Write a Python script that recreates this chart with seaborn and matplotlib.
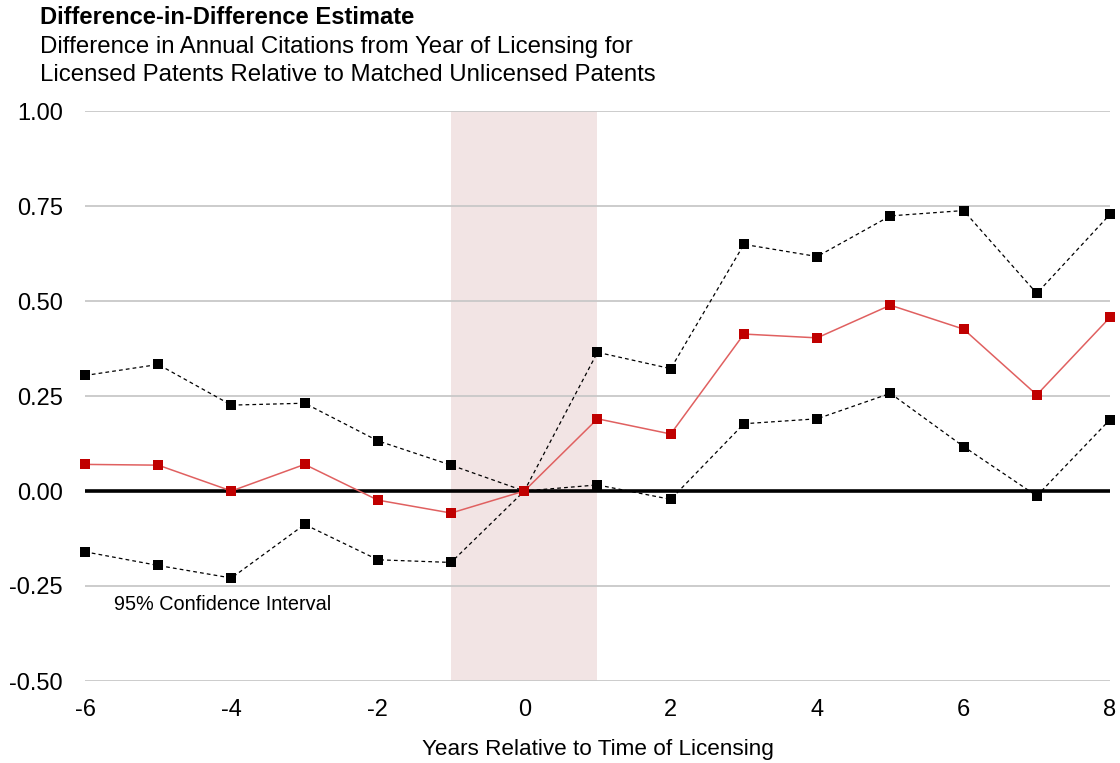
import matplotlib
matplotlib.use("Agg")
import matplotlib.pyplot as plt
import seaborn as sns
import pandas as pd

years = [-6, -5, -4, -3, -2, -1, 0, 1, 2, 3, 4, 5, 6, 7, 8]
estimate = [0.070, 0.068, 0.0, 0.070, -0.024, -0.058, 0.0, 0.190, 0.150, 0.413, 0.403, 0.489, 0.426, 0.253, 0.457]
upper_ci = [0.304, 0.333, 0.226, 0.231, 0.132, 0.068, 0.0, 0.365, 0.322, 0.649, 0.617, 0.724, 0.738, 0.520, 0.728]
lower_ci = [-0.160, -0.196, -0.229, -0.088, -0.181, -0.188, 0.0, 0.016, -0.022, 0.177, 0.190, 0.257, 0.117, -0.013, 0.188]
y_ticks = [-0.50, -0.25, 0.00, 0.25, 0.50, 0.75, 1.00]
x_ticks = [-6, -4, -2, 0, 2, 4, 6, 8]

sns.set_theme(style="white")
plt.rcParams['font.family'] = ['Liberation Sans', 'DejaVu Sans']

df = pd.DataFrame({"year": years, "est": estimate, "up": upper_ci, "lo": lower_ci})

fig = plt.figure(figsize=(11.2, 7.63), dpi=100)
ax = fig.add_axes([85/1120, (763-681)/763, 1025/1120, 570/763])

ax.axvspan(-1, 1, color='#F2E4E4', zorder=0, lw=0)
for yt in y_ticks:
    ax.axhline(yt, color='#C8C8C8', lw=1.3, zorder=1)
ax.axhline(0, color='black', lw=2.6, zorder=2)

for col in ["up", "lo"]:
    sns.lineplot(data=df, x="year", y=col, ax=ax, color='black', lw=0.9,
                 linestyle=(0, (3, 2.5)), marker='s', markersize=7.5,
                 markeredgewidth=0, markerfacecolor='black', zorder=3, clip_on=False)
sns.lineplot(data=df, x="year", y="est", ax=ax, color='#E06060', lw=1.1,
             marker='s', markersize=7.5, markeredgewidth=0,
             markerfacecolor='#C00000', zorder=4, clip_on=False)

ax.set_xlim(-6, 8)
ax.set_ylim(-0.5, 1.0)
ax.set_xticks(x_ticks)
ax.set_xticklabels([str(t) for t in x_ticks])
ax.set_yticks(y_ticks)
ax.set_yticklabels([f"{t:.2f}" for t in y_ticks])
ax.tick_params(axis='both', length=0, labelsize=17, colors='black')
ax.tick_params(axis='y', pad=16)
ax.tick_params(axis='x', pad=13)
for s in ax.spines.values():
    s.set_visible(False)
ax.set_ylabel("")
ax.set_xlabel("Years Relative to Time of Licensing", fontsize=16.2, labelpad=13, color='black')

ax.text(-5.6, -0.30, "95% Confidence Interval", fontsize=14.3, va='center', ha='left', color='black')

fig.text(40/1120, 1 - 18/763, "Difference-in-Difference Estimate", fontsize=17.1, fontweight='bold',
         va='center', ha='left', color='black')
fig.text(40/1120, 1 - 47/763, "Difference in Annual Citations from Year of Licensing for",
         fontsize=17.3, va='center', ha='left', color='black')
fig.text(40/1120, 1 - 75/763, "Licensed Patents Relative to Matched Unlicensed Patents",
         fontsize=17.3, va='center', ha='left', color='black')

fig.savefig("out.png", dpi=100)
